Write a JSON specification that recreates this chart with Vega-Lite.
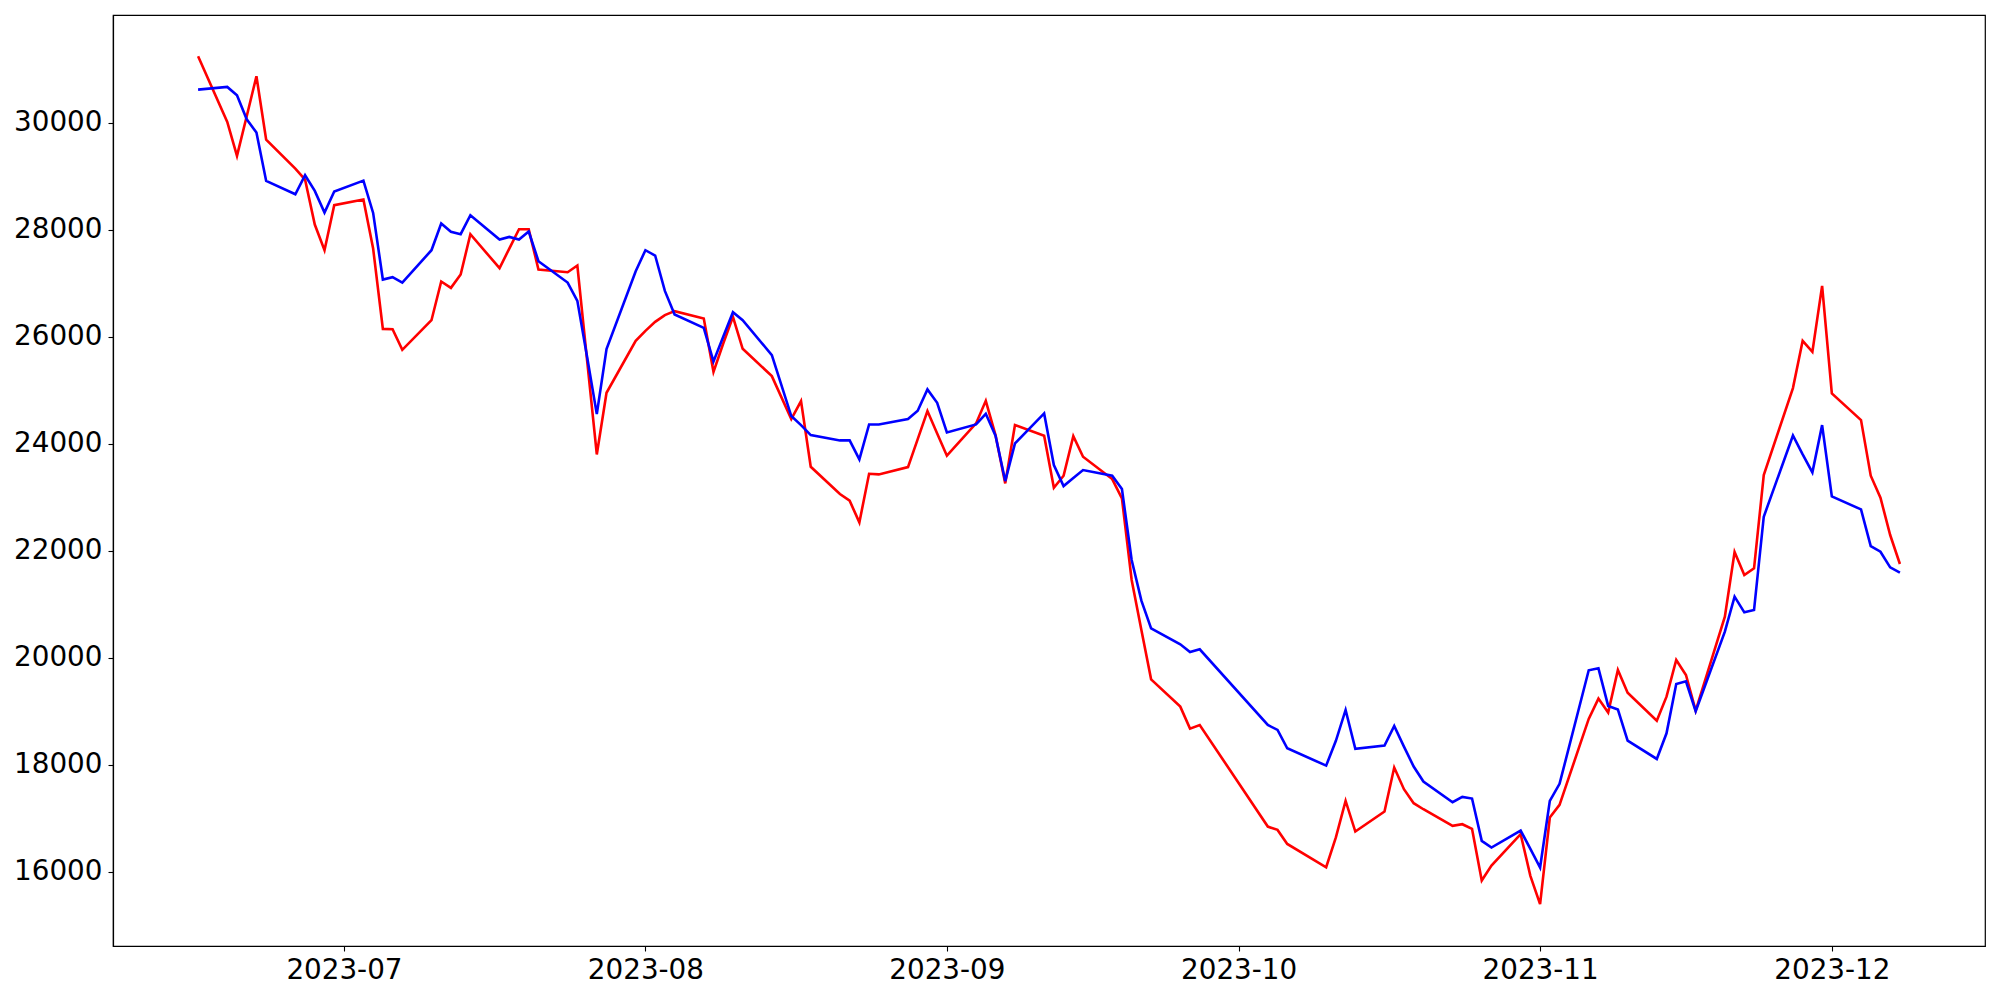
{
  "$schema": "https://vega.github.io/schema/vega-lite/v6.json",
  "width": 1872,
  "height": 931,
  "autosize": {"type": "none"},
  "padding": {"left": 113, "top": 15, "right": 15, "bottom": 54},
  "background": "white",
  "config": {
    "view": {"stroke": "black", "strokeWidth": 1.2},
    "axis": {
      "labelFont": "DejaVu Sans",
      "labelFontSize": 27.8,
      "labelColor": "black",
      "tickColor": "black",
      "tickSize": 5,
      "tickWidth": 1.1,
      "domainColor": "black",
      "domainWidth": 1.2,
      "labelPadding": 5,
      "grid": false,
      "title": null,
      "labelFlush": false,
      "labelOverlap": false
    }
  },
  "data": {
    "values": [
      {"d":"2023-06-16","s":"red","v":31238},{"d":"2023-06-19","s":"red","v":30011},{"d":"2023-06-20","s":"red","v":29376},{"d":"2023-06-21","s":"red","v":30117},{"d":"2023-06-22","s":"red","v":30864},{"d":"2023-06-23","s":"red","v":29681},{"d":"2023-06-26","s":"red","v":29140},{"d":"2023-06-27","s":"red","v":28934},{"d":"2023-06-28","s":"red","v":28093},{"d":"2023-06-29","s":"red","v":27614},{"d":"2023-06-30","s":"red","v":28455},
      {"d":"2023-07-03","s":"red","v":28560},{"d":"2023-07-04","s":"red","v":27645},{"d":"2023-07-05","s":"red","v":26144},{"d":"2023-07-06","s":"red","v":26138},{"d":"2023-07-07","s":"red","v":25752},{"d":"2023-07-10","s":"red","v":26306},{"d":"2023-07-11","s":"red","v":27029},{"d":"2023-07-12","s":"red","v":26910},{"d":"2023-07-13","s":"red","v":27159},{"d":"2023-07-14","s":"red","v":27913},{"d":"2023-07-17","s":"red","v":27278},{"d":"2023-07-18","s":"red","v":27645},{"d":"2023-07-19","s":"red","v":28006},{"d":"2023-07-20","s":"red","v":28006},{"d":"2023-07-21","s":"red","v":27253},{"d":"2023-07-24","s":"red","v":27203},{"d":"2023-07-25","s":"red","v":27328},{"d":"2023-07-26","s":"red","v":25559},{"d":"2023-07-27","s":"red","v":23797},{"d":"2023-07-28","s":"red","v":24949},{"d":"2023-07-31","s":"red","v":25920},
      {"d":"2023-08-01","s":"red","v":26107},{"d":"2023-08-02","s":"red","v":26275},{"d":"2023-08-03","s":"red","v":26400},{"d":"2023-08-04","s":"red","v":26475},{"d":"2023-08-07","s":"red","v":26338},{"d":"2023-08-08","s":"red","v":25341},{"d":"2023-08-09","s":"red","v":25870},{"d":"2023-08-10","s":"red","v":26369},{"d":"2023-08-11","s":"red","v":25771},{"d":"2023-08-14","s":"red","v":25261},{"d":"2023-08-16","s":"red","v":24458},{"d":"2023-08-17","s":"red","v":24794},{"d":"2023-08-18","s":"red","v":23567},{"d":"2023-08-21","s":"red","v":23057},{"d":"2023-08-22","s":"red","v":22932},{"d":"2023-08-23","s":"red","v":22527},{"d":"2023-08-24","s":"red","v":23436},{"d":"2023-08-25","s":"red","v":23424},{"d":"2023-08-28","s":"red","v":23561},{"d":"2023-08-29","s":"red","v":24084},{"d":"2023-08-30","s":"red","v":24607},{"d":"2023-08-31","s":"red","v":24190},
      {"d":"2023-09-01","s":"red","v":23773},{"d":"2023-09-04","s":"red","v":24377},{"d":"2023-09-05","s":"red","v":24800},{"d":"2023-09-06","s":"red","v":24159},{"d":"2023-09-07","s":"red","v":23256},{"d":"2023-09-08","s":"red","v":24346},{"d":"2023-09-11","s":"red","v":24146},{"d":"2023-09-12","s":"red","v":23175},{"d":"2023-09-13","s":"red","v":23399},{"d":"2023-09-14","s":"red","v":24140},{"d":"2023-09-15","s":"red","v":23754},{"d":"2023-09-18","s":"red","v":23337},{"d":"2023-09-19","s":"red","v":22975},{"d":"2023-09-20","s":"red","v":21450},{"d":"2023-09-21","s":"red","v":20516},{"d":"2023-09-22","s":"red","v":19594},{"d":"2023-09-25","s":"red","v":19084},{"d":"2023-09-26","s":"red","v":18673},{"d":"2023-09-27","s":"red","v":18741},
      {"d":"2023-10-04","s":"red","v":16842},{"d":"2023-10-05","s":"red","v":16780},{"d":"2023-10-06","s":"red","v":16518},{"d":"2023-10-10","s":"red","v":16082},{"d":"2023-10-11","s":"red","v":16640},{"d":"2023-10-12","s":"red","v":17322},{"d":"2023-10-13","s":"red","v":16749},{"d":"2023-10-16","s":"red","v":17123},{"d":"2023-10-17","s":"red","v":17945},{"d":"2023-10-18","s":"red","v":17540},{"d":"2023-10-19","s":"red","v":17279},{"d":"2023-10-20","s":"red","v":17166},{"d":"2023-10-23","s":"red","v":16855},{"d":"2023-10-24","s":"red","v":16886},{"d":"2023-10-25","s":"red","v":16799},{"d":"2023-10-26","s":"red","v":15834},{"d":"2023-10-27","s":"red","v":16114},{"d":"2023-10-30","s":"red","v":16699},{"d":"2023-10-31","s":"red","v":15921},
      {"d":"2023-11-01","s":"red","v":15392},{"d":"2023-11-02","s":"red","v":17011},{"d":"2023-11-03","s":"red","v":17247},{"d":"2023-11-06","s":"red","v":18854},{"d":"2023-11-07","s":"red","v":19234},{"d":"2023-11-08","s":"red","v":18972},{"d":"2023-11-09","s":"red","v":19770},{"d":"2023-11-10","s":"red","v":19345},{"d":"2023-11-13","s":"red","v":18822},{"d":"2023-11-14","s":"red","v":19270},{"d":"2023-11-15","s":"red","v":19956},{"d":"2023-11-16","s":"red","v":19675},{"d":"2023-11-17","s":"red","v":19009},{"d":"2023-11-20","s":"red","v":20765},{"d":"2023-11-21","s":"red","v":21973},{"d":"2023-11-22","s":"red","v":21543},{"d":"2023-11-23","s":"red","v":21668},{"d":"2023-11-24","s":"red","v":23411},{"d":"2023-11-27","s":"red","v":25037},{"d":"2023-11-28","s":"red","v":25921},{"d":"2023-11-29","s":"red","v":25715},{"d":"2023-11-30","s":"red","v":26948},
      {"d":"2023-12-01","s":"red","v":24937},{"d":"2023-12-04","s":"red","v":24439},{"d":"2023-12-05","s":"red","v":23399},{"d":"2023-12-06","s":"red","v":22988},{"d":"2023-12-07","s":"red","v":22291},{"d":"2023-12-08","s":"red","v":21749},

      {"d":"2023-06-16","s":"blue","v":30616},{"d":"2023-06-19","s":"blue","v":30665},{"d":"2023-06-20","s":"blue","v":30510},{"d":"2023-06-21","s":"blue","v":30061},{"d":"2023-06-22","s":"blue","v":29812},{"d":"2023-06-23","s":"blue","v":28909},{"d":"2023-06-26","s":"blue","v":28660},{"d":"2023-06-27","s":"blue","v":29015},{"d":"2023-06-28","s":"blue","v":28722},{"d":"2023-06-29","s":"blue","v":28318},{"d":"2023-06-30","s":"blue","v":28710},
      {"d":"2023-07-03","s":"blue","v":28915},{"d":"2023-07-04","s":"blue","v":28311},{"d":"2023-07-05","s":"blue","v":27066},{"d":"2023-07-06","s":"blue","v":27110},{"d":"2023-07-07","s":"blue","v":27010},{"d":"2023-07-10","s":"blue","v":27614},{"d":"2023-07-11","s":"blue","v":28112},{"d":"2023-07-12","s":"blue","v":27957},{"d":"2023-07-13","s":"blue","v":27913},{"d":"2023-07-14","s":"blue","v":28268},{"d":"2023-07-17","s":"blue","v":27813},{"d":"2023-07-18","s":"blue","v":27863},{"d":"2023-07-19","s":"blue","v":27813},{"d":"2023-07-20","s":"blue","v":27963},{"d":"2023-07-21","s":"blue","v":27409},{"d":"2023-07-24","s":"blue","v":27010},{"d":"2023-07-25","s":"blue","v":26668},{"d":"2023-07-26","s":"blue","v":25622},{"d":"2023-07-27","s":"blue","v":24550},{"d":"2023-07-28","s":"blue","v":25765},{"d":"2023-07-31","s":"blue","v":27222},
      {"d":"2023-08-01","s":"blue","v":27614},{"d":"2023-08-02","s":"blue","v":27515},{"d":"2023-08-03","s":"blue","v":26854},{"d":"2023-08-04","s":"blue","v":26412},{"d":"2023-08-07","s":"blue","v":26163},{"d":"2023-08-08","s":"blue","v":25534},{"d":"2023-08-09","s":"blue","v":25995},{"d":"2023-08-10","s":"blue","v":26456},{"d":"2023-08-11","s":"blue","v":26307},{"d":"2023-08-14","s":"blue","v":25653},{"d":"2023-08-16","s":"blue","v":24514},{"d":"2023-08-17","s":"blue","v":24346},{"d":"2023-08-18","s":"blue","v":24159},{"d":"2023-08-21","s":"blue","v":24059},{"d":"2023-08-22","s":"blue","v":24059},{"d":"2023-08-23","s":"blue","v":23704},{"d":"2023-08-24","s":"blue","v":24358},{"d":"2023-08-25","s":"blue","v":24358},{"d":"2023-08-28","s":"blue","v":24458},{"d":"2023-08-29","s":"blue","v":24613},{"d":"2023-08-30","s":"blue","v":25012},{"d":"2023-08-31","s":"blue","v":24763},
      {"d":"2023-09-01","s":"blue","v":24209},{"d":"2023-09-04","s":"blue","v":24358},{"d":"2023-09-05","s":"blue","v":24557},{"d":"2023-09-06","s":"blue","v":24146},{"d":"2023-09-07","s":"blue","v":23299},{"d":"2023-09-08","s":"blue","v":24003},{"d":"2023-09-11","s":"blue","v":24564},{"d":"2023-09-12","s":"blue","v":23598},{"d":"2023-09-13","s":"blue","v":23206},{"d":"2023-09-14","s":"blue","v":23355},{"d":"2023-09-15","s":"blue","v":23505},{"d":"2023-09-18","s":"blue","v":23399},{"d":"2023-09-19","s":"blue","v":23150},{"d":"2023-09-20","s":"blue","v":21824},{"d":"2023-09-21","s":"blue","v":21064},{"d":"2023-09-22","s":"blue","v":20547},{"d":"2023-09-25","s":"blue","v":20248},{"d":"2023-09-26","s":"blue","v":20105},{"d":"2023-09-27","s":"blue","v":20155},
      {"d":"2023-10-04","s":"blue","v":18741},{"d":"2023-10-05","s":"blue","v":18648},{"d":"2023-10-06","s":"blue","v":18305},{"d":"2023-10-10","s":"blue","v":17981},{"d":"2023-10-11","s":"blue","v":18445},{"d":"2023-10-12","s":"blue","v":19022},{"d":"2023-10-13","s":"blue","v":18294},{"d":"2023-10-16","s":"blue","v":18356},{"d":"2023-10-17","s":"blue","v":18723},{"d":"2023-10-18","s":"blue","v":18337},{"d":"2023-10-19","s":"blue","v":17964},{"d":"2023-10-20","s":"blue","v":17683},{"d":"2023-10-23","s":"blue","v":17297},{"d":"2023-10-24","s":"blue","v":17397},{"d":"2023-10-25","s":"blue","v":17366},{"d":"2023-10-26","s":"blue","v":16575},{"d":"2023-10-27","s":"blue","v":16450},{"d":"2023-10-30","s":"blue","v":16768},{"d":"2023-10-31","s":"blue","v":16425},
      {"d":"2023-11-01","s":"blue","v":16077},{"d":"2023-11-02","s":"blue","v":17322},{"d":"2023-11-03","s":"blue","v":17640},{"d":"2023-11-06","s":"blue","v":19763},{"d":"2023-11-07","s":"blue","v":19800},{"d":"2023-11-08","s":"blue","v":19097},{"d":"2023-11-09","s":"blue","v":19030},{"d":"2023-11-10","s":"blue","v":18448},{"d":"2023-11-13","s":"blue","v":18106},{"d":"2023-11-14","s":"blue","v":18585},{"d":"2023-11-15","s":"blue","v":19507},{"d":"2023-11-16","s":"blue","v":19557},{"d":"2023-11-17","s":"blue","v":18997},{"d":"2023-11-20","s":"blue","v":20485},{"d":"2023-11-21","s":"blue","v":21139},{"d":"2023-11-22","s":"blue","v":20846},{"d":"2023-11-23","s":"blue","v":20889},{"d":"2023-11-24","s":"blue","v":22633},{"d":"2023-11-27","s":"blue","v":24152},{"d":"2023-11-28","s":"blue","v":23797},{"d":"2023-11-29","s":"blue","v":23461},{"d":"2023-11-30","s":"blue","v":24345},
      {"d":"2023-12-01","s":"blue","v":23013},{"d":"2023-12-04","s":"blue","v":22770},{"d":"2023-12-05","s":"blue","v":22085},{"d":"2023-12-06","s":"blue","v":21979},{"d":"2023-12-07","s":"blue","v":21687},{"d":"2023-12-08","s":"blue","v":21587}
    ]
  },
  "mark": {"type": "line", "strokeWidth": 2.6, "clip": true},
  "encoding": {
    "x": {
      "field": "d",
      "type": "temporal",
      "scale": {
        "type": "utc",
        "domain": [
          {"year": 2023, "month": 6, "date": 7, "hours": 6, "utc": true},
          {"year": 2023, "month": 12, "date": 16, "hours": 18, "utc": true}
        ]
      },
      "axis": {
        "format": "%Y-%m",
        "values": [
          {"year": 2023, "month": 7, "date": 1, "utc": true},
          {"year": 2023, "month": 8, "date": 1, "utc": true},
          {"year": 2023, "month": 9, "date": 1, "utc": true},
          {"year": 2023, "month": 10, "date": 1, "utc": true},
          {"year": 2023, "month": 11, "date": 1, "utc": true},
          {"year": 2023, "month": 12, "date": 1, "utc": true}
        ]
      }
    },
    "y": {
      "field": "v",
      "type": "quantitative",
      "scale": {"domain": [14610, 32010], "nice": false, "zero": false},
      "axis": {"values": [16000, 18000, 20000, 22000, 24000, 26000, 28000, 30000], "format": "d", "labelPadding": 6}
    },
    "color": {
      "field": "s",
      "type": "nominal",
      "scale": {"domain": ["red", "blue"], "range": ["#ff0000", "#0000ff"]},
      "legend": null
    }
  }
}
